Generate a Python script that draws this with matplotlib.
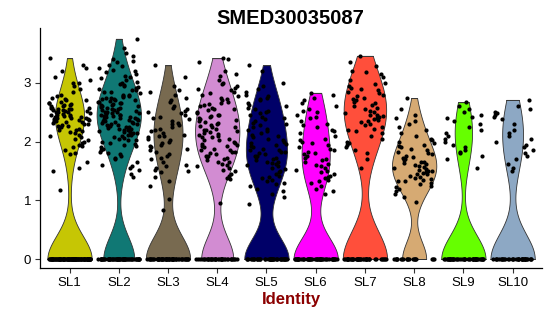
import numpy as np
import matplotlib
matplotlib.use('Agg')
import matplotlib.pyplot as plt

# Identity classes and violin colours
groups = ['SL1', 'SL2', 'SL3', 'SL4', 'SL5', 'SL6', 'SL7', 'SL8', 'SL9', 'SL10']
colors = ['#C6C604', '#107874', '#786A50', '#D28CD2', '#000068',
          '#FF00FF', '#FF4F3B', '#D6AA73', '#66FF00', '#8DA8C4']

# number of cells with zero expression in each group
zero_counts = [100, 58, 53, 38, 45, 48, 42, 20, 45, 36]

# non-zero expression values
sl1 = [3.42, 3.3, 3.25, 3.2, 3.1, 3.05, 3.0, 3.0, 2.95, 2.9, 2.85, 2.8, 2.78, 2.75, 2.72, 2.7, 2.7,
       2.68, 2.66, 2.65, 2.64, 2.62, 2.62, 2.6, 2.6, 2.58, 2.58, 2.57, 2.56, 2.55, 2.55, 2.54, 2.53,
       2.52, 2.52, 2.5, 2.5, 2.5, 2.48, 2.47, 2.46, 2.45, 2.45, 2.44, 2.43, 2.42, 2.42, 2.4, 2.4, 2.4,
       2.39, 2.38, 2.37, 2.36, 2.35, 2.35, 2.34, 2.33, 2.32, 2.3, 2.3, 2.28, 2.27, 2.26, 2.25, 2.24,
       2.22, 2.2, 2.2, 2.18, 2.17, 2.15, 2.12, 2.1, 2.08, 2.05, 2.02, 2.0, 1.98, 1.95, 1.92, 1.9,
       1.85, 1.8, 1.78, 1.66, 1.55, 1.5, 1.18]
sl2 = [3.75, 3.6, 3.5, 3.45, 3.4, 3.38, 3.35, 3.3, 3.28, 3.25, 3.22, 3.2, 3.18, 3.15, 3.12, 3.1,
       3.08, 3.05, 3.02, 3.0, 2.98, 2.96, 2.95, 2.93, 2.92, 2.9, 2.88, 2.87, 2.85, 2.84, 2.82, 2.8,
       2.79, 2.78, 2.77, 2.76, 2.75, 2.74, 2.73, 2.72, 2.71, 2.7, 2.69, 2.68, 2.67, 2.66, 2.65, 2.64,
       2.63, 2.62, 2.61, 2.6, 2.59, 2.58, 2.57, 2.56, 2.55, 2.54, 2.53, 2.52, 2.51, 2.5, 2.5, 2.49,
       2.48, 2.47, 2.46, 2.45, 2.45, 2.44, 2.43, 2.42, 2.41, 2.4, 2.4, 2.39, 2.38, 2.37, 2.36, 2.35,
       2.35, 2.34, 2.33, 2.32, 2.31, 2.3, 2.3, 2.29, 2.28, 2.27, 2.26, 2.25, 2.24, 2.23, 2.22, 2.21,
       2.2, 2.19, 2.18, 2.17, 2.16, 2.15, 2.14, 2.13, 2.12, 2.11, 2.1, 2.08, 2.06, 2.05, 2.03, 2.02,
       2.0, 1.98, 1.96, 1.94, 1.92, 1.9, 1.88, 1.85, 1.82, 1.8, 1.78, 1.75, 1.72, 1.7, 1.65, 1.6,
       1.58, 1.55, 1.52, 1.45, 1.4]
sl3 = [3.3, 3.1, 2.95, 2.88, 2.85, 2.8, 2.75, 2.7, 2.68, 2.6, 2.58, 2.55, 2.52, 2.5, 2.48, 2.45,
       2.42, 2.4, 2.38, 2.35, 2.32, 2.3, 2.28, 2.25, 2.22, 2.2, 2.18, 2.15, 2.12, 2.1, 2.1, 2.08,
       2.05, 2.02, 2.0, 1.98, 1.95, 1.92, 1.9, 1.88, 1.85, 1.82, 1.78, 1.75, 1.72, 1.7, 1.65, 1.6,
       1.58, 1.55, 1.52, 1.5, 1.48, 1.4, 1.32, 1.25, 1.03, 0.83]
sl4 = [3.42, 3.4, 3.35, 3.2, 3.15, 3.12, 3.05, 3.0, 2.98, 2.95, 2.92, 2.9, 2.88, 2.85, 2.82, 2.8,
       2.78, 2.75, 2.72, 2.7, 2.68, 2.66, 2.64, 2.62, 2.6, 2.58, 2.56, 2.55, 2.53, 2.5, 2.48, 2.46,
       2.45, 2.43, 2.42, 2.4, 2.38, 2.36, 2.35, 2.33, 2.32, 2.3, 2.28, 2.27, 2.25, 2.24, 2.22, 2.2,
       2.19, 2.18, 2.16, 2.15, 2.13, 2.12, 2.1, 2.08, 2.07, 2.05, 2.03, 2.02, 2.0, 1.98, 1.96, 1.95,
       1.93, 1.92, 1.9, 1.88, 1.86, 1.85, 1.83, 1.82, 1.8, 1.78, 1.76, 1.75, 1.73, 1.72, 1.7, 1.68,
       1.66, 1.65, 1.62, 1.6, 1.58, 1.55, 1.52, 1.5, 1.45, 1.42, 1.38, 1.36, 0.95]
sl5 = [3.3, 3.2, 3.0, 2.95, 2.9, 2.85, 2.8, 2.78, 2.75, 2.72, 2.7, 2.65, 2.62, 2.6, 2.58, 2.55,
       2.52, 2.5, 2.48, 2.45, 2.42, 2.4, 2.38, 2.35, 2.32, 2.3, 2.28, 2.25, 2.22, 2.2, 2.18, 2.15,
       2.12, 2.1, 2.08, 2.05, 2.02, 2.0, 1.98, 1.96, 1.94, 1.92, 1.9, 1.88, 1.86, 1.85, 1.83, 1.82,
       1.8, 1.78, 1.76, 1.75, 1.73, 1.72, 1.7, 1.68, 1.66, 1.65, 1.63, 1.62, 1.6, 1.58, 1.55, 1.53,
       1.5, 1.48, 1.45, 1.42, 1.4, 1.38, 1.35, 1.32, 1.3, 1.28, 1.25, 1.2, 1.15, 1.1, 1.05, 0.93]
sl6 = [2.83, 2.8, 2.75, 2.7, 2.65, 2.6, 2.55, 2.52, 2.5, 2.45, 2.42, 2.4, 2.35, 2.3, 2.28, 2.25,
       2.2, 2.18, 2.15, 2.1, 2.05, 2.02, 2.0, 1.98, 1.95, 1.9, 1.88, 1.85, 1.82, 1.8, 1.78, 1.75,
       1.72, 1.7, 1.68, 1.65, 1.62, 1.6, 1.58, 1.55, 1.52, 1.5, 1.48, 1.45, 1.42, 1.4, 1.38, 1.35,
       1.32, 1.3, 1.25, 1.2, 1.15, 1.1]
sl7 = [3.46, 3.35, 3.28, 3.2, 3.18, 3.15, 3.1, 3.05, 3.0, 2.98, 2.95, 2.92, 2.9, 2.88, 2.85, 2.82,
       2.8, 2.78, 2.75, 2.72, 2.7, 2.68, 2.65, 2.62, 2.6, 2.58, 2.55, 2.52, 2.5, 2.48, 2.46, 2.45,
       2.43, 2.42, 2.4, 2.38, 2.36, 2.35, 2.33, 2.3, 2.28, 2.25, 2.22, 2.2, 2.18, 2.15, 2.1, 2.05,
       2.0, 1.98, 1.95, 1.9, 1.85, 1.8, 1.7, 1.55]
sl8 = [2.74, 2.55, 2.45, 2.4, 2.35, 2.3, 2.25, 2.2, 2.15, 2.1, 2.05, 2.02, 2.0, 1.98, 1.95, 1.92,
       1.9, 1.88, 1.85, 1.82, 1.8, 1.78, 1.75, 1.73, 1.72, 1.7, 1.68, 1.66, 1.65, 1.63, 1.62, 1.6,
       1.58, 1.57, 1.55, 1.54, 1.52, 1.5, 1.5, 1.48, 1.47, 1.45, 1.44, 1.42, 1.4, 1.38, 1.37, 1.35,
       1.33, 1.32, 1.3, 1.28, 1.25, 1.22, 1.2, 1.15, 1.1, 1.05, 0.97]
sl9 = [2.67, 2.6, 2.55, 2.5, 2.45, 2.42, 2.4, 2.35, 2.3, 2.25, 2.2, 2.15, 2.1, 2.05, 2.0, 1.95,
       1.9, 1.85, 1.82, 1.8, 1.75, 1.7, 1.55]
sl10 = [2.71, 2.6, 2.55, 2.5, 2.48, 2.45, 2.42, 2.38, 2.3, 2.2, 2.15, 2.1, 2.05, 2.0, 1.95, 1.9,
        1.85, 1.8, 1.75, 1.7, 1.62, 1.55, 1.5]
expr = [sl1, sl2, sl3, sl4, sl5, sl6, sl7, sl8, sl9, sl10]


def nrd0(v):
    # R's default bandwidth (bw.nrd0)
    sd = np.std(v, ddof=1)
    iqr = np.subtract(*np.percentile(v, [75, 25]))
    lo = min(sd, iqr / 1.34)
    if lo == 0:
        lo = sd
    return 0.9 * lo * len(v) ** -0.2


fig = plt.figure(figsize=(5.5, 3.16), dpi=100)
ax = fig.add_axes([0.0727, 0.1525, 0.913, 0.760])

for i, (vals, nz, col) in enumerate(zip(expr, zero_counts, colors)):
    pos = i + 1
    v = np.concatenate([np.zeros(nz), np.array(vals)])
    bw = nrd0(v)
    grid = np.linspace(v.min(), v.max(), 512)
    dens = np.exp(-0.5 * ((grid[:, None] - v[None, :]) / bw) ** 2).sum(axis=1)
    half = 0.45 * dens / dens.max()
    ax.fill_betweenx(grid, pos - half, pos + half, facecolor=col,
                     edgecolor='#333333', linewidth=0.6, zorder=2)
    # closed flat ends like ggplot trimmed violins
    ax.plot([pos - half[-1], pos + half[-1]], [grid[-1]] * 2, color='#333333', lw=0.6, zorder=2)
    ax.plot([pos - half[0], pos + half[0]], [grid[0]] * 2, color='#333333', lw=0.6, zorder=2)

# jittered cells (deterministic hash jitter, horizontal only)
for i, (vals, nz) in enumerate(zip(expr, zero_counts)):
    pos = i + 1
    v = np.concatenate([np.zeros(nz), np.array(vals)])
    k = np.arange(len(v)) + 17.0 * (i + 1)
    h = np.sin(k * 12.9898 + 78.233) * 43758.5453
    jit = (h - np.floor(h) - 0.5) * 0.85
    ax.scatter(pos + jit, v, s=9, color='black', linewidths=0, zorder=3)

ax.set_xlim(0.4, 10.6)
ax.set_ylim(-0.15, 3.94)
ax.set_xticks(range(1, 11))
ax.set_xticklabels(groups)
ax.set_yticks([0, 1, 2, 3])
ax.spines['top'].set_visible(False)
ax.spines['right'].set_visible(False)
for s in ['left', 'bottom']:
    ax.spines[s].set_linewidth(0.9)
    ax.spines[s].set_color('black')
ax.tick_params(axis='both', length=3.5, width=0.8, color='#333333',
               labelsize=9.5, labelcolor='black', pad=3)

fig.suptitle('SMED30035087', x=0.527, y=0.97, fontsize=14.5, fontweight='bold',
             family='Liberation Sans')
ax.set_xlabel('Identity', color='#8B0000', fontsize=12, fontweight='bold',
              family='Liberation Sans', labelpad=2)
for lab in ax.get_xticklabels() + ax.get_yticklabels():
    lab.set_family('Liberation Sans')

fig.savefig('out.png', dpi=100)
